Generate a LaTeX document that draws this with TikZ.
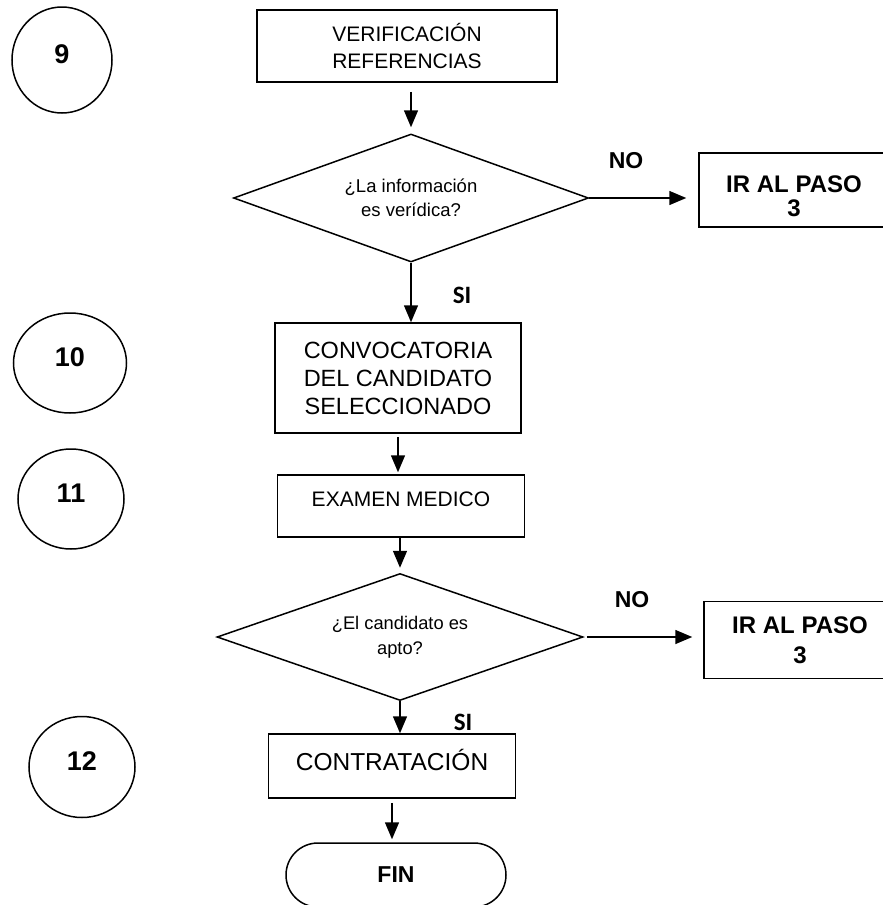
\documentclass[tikz,border=0pt]{standalone}
\usepackage{fontspec}
\setmainfont{Liberation Sans}
\newfontfamily\calibfont{Carlito}
\usetikzlibrary{arrows.meta,shapes.geometric,shapes.misc}

\begin{document}
\begin{tikzpicture}[x=1pt, y=-1pt, line width=1.5pt,
	caja/.style={draw, rectangle, align=center, inner sep=0pt},
	rombo/.style={draw, diamond, align=center, inner sep=0pt},
	paso/.style={draw, ellipse, inner sep=0pt, text depth=12pt, font=\fontsize{27}{30}\selectfont\bfseries},
	flecha/.style={-{Triangle[width=14pt,length=17pt]}},
	resp/.style={font=\fontsize{23}{26}\selectfont\bfseries},
	irpaso/.style={align=center, font=\fontsize{24}{24}\selectfont\bfseries}]
			%%%%% START %%%%%
			
			\useasboundingbox (0,0) rectangle (883,905);
			
			\node[paso, minimum width=100, minimum height=106] (p9) at (62,60) {9};
			\node[caja, minimum width=300, minimum height=72, font=\fontsize{21}{27}\selectfont] (ver) at (407,46) {VERIFICACIÓN\\REFERENCIAS};
			
			\node[rombo, shape aspect=2.8, minimum width=355, minimum height=128, font=\fontsize{18.5}{24}\selectfont] (dec1) at (411,198) {¿La información\\es verídica?};
			\node[caja, minimum width=190, minimum height=74, label={[irpaso, yshift=-6pt]center:{IR AL PASO\\3}}] (ir1) at (794,190) {};
			\node[resp] (no1) at (626,161) {NO};
			\node[resp, font=\calibfont\fontsize{25}{28}\selectfont\bfseries] (si1) at (462,295) {SI};
			
			\node[paso, minimum width=113, minimum height=100] (p10) at (70,363) {10};
			\node[caja, minimum width=246, minimum height=110, font=\fontsize{23.5}{28}\selectfont] (conv) at (398,378) {CONVOCATORIA\\DEL CANDIDATO\\SELECCIONADO};
			
			\node[paso, minimum width=106, minimum height=100] (p11) at (71,499) {11};
			\node[caja, minimum width=247, minimum height=62, text depth=14pt, font=\fontsize{21}{24}\selectfont] (exam) at (401,506) {EXAMEN MEDICO};
			
			\node[rombo, shape aspect=2.9, minimum width=366, minimum height=127, font=\fontsize{18.3}{25}\selectfont] (dec2) at (400,637) {¿El candidato es\\apto?};
			\node[caja, minimum width=192, minimum height=77, font=\fontsize{24}{30}\selectfont\bfseries] (ir2) at (800,640) {IR AL PASO\\3};
			\node[resp] (no2) at (632,600) {NO};
			\node[resp, font=\calibfont\fontsize{25}{28}\selectfont\bfseries] (si2) at (463,722) {SI};
			
			\node[paso, minimum width=106, minimum height=101] (p12) at (82,767) {12};
			\node[caja, minimum width=247, minimum height=64, text depth=12pt, font=\fontsize{24.5}{26}\selectfont] (contr) at (392,766) {CONTRATACIÓN};
			
			\node[draw, rounded rectangle, inner sep=0pt, minimum width=220, minimum height=64, font=\fontsize{23}{26}\selectfont\bfseries] (fin) at (396,875) {FIN};
			
			\draw[flecha, shorten <=9pt, shorten >=6pt] (dec1.north |- ver.south) -- (dec1.north);
			\draw[flecha, shorten >=12pt] (dec1.east) -- (dec1.east -| ir1.west);
			\draw[flecha] (dec1.south) -- (dec1.south |- conv.north);
			\draw[flecha, shorten <=3pt, shorten >=2pt] (conv.south) -- (conv.south |- exam.north);
			\draw[flecha, shorten >=5pt] (dec2.north |- exam.south) -- (dec2.north);
			\draw[flecha, shorten <=3pt, shorten >=11pt] (dec2.east) -- (dec2.east -| ir2.west);
			\draw[flecha] (dec2.south) -- (dec2.south |- contr.north);
			\draw[flecha, shorten <=4pt, shorten >=3pt] (contr.south) -- (contr.south |- fin.north);
			
			%%%%% END %%%%%
\end{tikzpicture}
\end{document}
